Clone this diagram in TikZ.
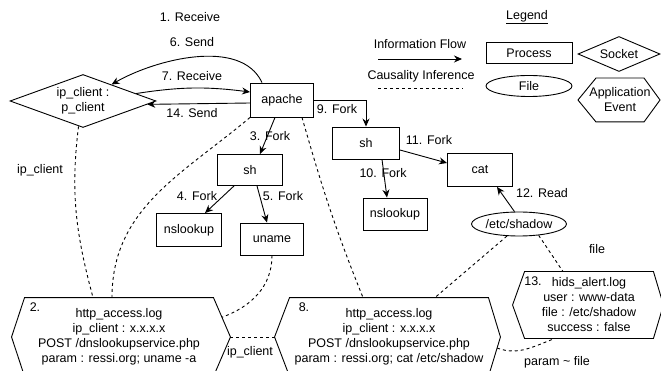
\documentclass[tikz,border=0pt]{standalone}
\usepackage{fontspec}
\setmainfont{Liberation Sans}
\usetikzlibrary{arrows.meta, shapes.geometric, calc}

\newcommand{\hexline}[3]{%
  \coordinate (#1-w) at ([xshift=-#2pt]#1.west);
  \coordinate (#1-e) at ([xshift=#3pt]#1.east);
  \draw (#1.north west) -- (#1.north east) -- (#1-e) -- (#1.south east) -- (#1.south west) -- (#1-w) -- cycle;}

\begin{document}
\begin{tikzpicture}[x=1pt, y=1pt, line width=0.9pt,
  every node/.style={font=\fontsize{12.5}{15}\selectfont},
  proc/.style={draw, rectangle, minimum width=65pt, minimum height=33pt, inner sep=0pt},
  sock/.style={draw, diamond, aspect=2.75, minimum width=146pt, minimum height=53pt, inner sep=0pt, align=center},
  file/.style={draw, ellipse, inner sep=0pt},
  logbox/.style={inner sep=0pt, align=center},
  lbl/.style={inner sep=0pt, align=center},
  flow/.style={-{Stealth[length=8pt, width=7pt]}},
  cause/.style={dash pattern=on 3pt off 3pt}]
  \useasboundingbox (0,0) rectangle (661,-371);
  \clip (0,0) rectangle (661,-371);

  \node[proc, minimum width=63pt, minimum height=34pt] (apache) at (282,-100) {apache};
  \node[sock] (client) at (83,-101) {ip\_client :\\p\_client};
  \node[proc, minimum height=31pt] (shA) at (250,-170) {sh};
  \node[proc] (nslookupA) at (189,-230) {nslookup};
  \node[proc, minimum width=63pt, minimum height=32pt] (uname) at (272,-239) {uname};
  \node[proc, minimum width=67pt, minimum height=32pt] (shB) at (366,-143) {sh};
  \node[proc] (cat) at (480,-170) {cat};
  \node[proc, minimum width=64pt, minimum height=32pt] (nslookupB) at (395,-214) {nslookup};
  \node[file, minimum width=95pt, minimum height=24pt] (shadow) at (519,-224) {/etc/shadow};

  \node[logbox, minimum width=188pt, minimum height=78pt] (logA) at (119,-337)
    {http\_access.log\\ip\_client : x.x.x.x\\POST /dnslookupservice.php\\param : ressi.org; uname -a};
  \hexline{logA}{13}{17}
  \node[logbox, minimum width=198pt, minimum height=78pt] (logB) at (389,-337)
    {http\_access.log\\ip\_client : x.x.x.x\\POST /dnslookupservice.php\\param : ressi.org; cat /etc/shadow};
  \hexline{logB}{15}{12}
  \node[logbox, minimum width=128pt, minimum height=66pt] (hids) at (589,-305)
    {hids\_alert.log\\user : www-data\\file : /etc/shadow\\success : false};
  \hexline{hids}{12}{10}
  \node[lbl] (numA) at (35,-307) {2.};
  \node[lbl] (numB) at (304,-307) {8.};
  \node[lbl] (numC) at (533,-281) {13.};

  % legend
  \node[lbl] (legend) at (527,-17) {\underline{Legend}};
  \node[lbl] (flowtxt) at (420,-44) {Information Flow};
  \coordinate (flowA) at (378,-59);
  \coordinate (flowB) at (462,-59);
  \draw[flow] (flowA) -- (flowB);
  \node[lbl] (causetxt) at (421,-76) {Causality Inference};
  \coordinate (causeA) at (378,-88);
  \coordinate (causeB) at (463,-88);
  \draw[cause] (causeA) -- (causeB);
  \node[proc, minimum width=86pt, minimum height=21pt] (lgProc) at (529,-53) {Process};
  \node[file, minimum width=86pt, minimum height=21pt] (lgFile) at (529,-86) {File};
  \node[sock, minimum width=82pt, minimum height=35pt, aspect=2.3] (lgSock) at (619,-54) {Socket};
  \node[lbl, inner xsep=-7pt, minimum height=43pt] (lgApp) at (620,-100) {Application\\Event};
  \hexline{lgApp}{18}{16}

  % socket traffic
  \node[lbl] (lRecvA) at (190,-17) {1. Receive};
  \node[lbl] (lSendA) at (192,-42) {6. Send};
  \node[lbl] (lRecvB) at (192,-76) {7. Receive};
  \node[lbl] (lSendB) at (192,-113) {14. Send};
  \draw[flow] ([xshift=-20pt]apache.north) to[out=115, in=30, looseness=0.85] (client.30);
  \draw[flow] (client.8) to[bend left=8] ([yshift=8pt]apache.west);
  \draw[flow] ([yshift=-3pt]apache.west) -- (client.-3);

  % forks and reads
  \draw[flow] ([xshift=-7pt]apache.south) -- ([xshift=10pt]shA.north);
  \draw[flow] ([xshift=-16pt]shA.south) -- ([xshift=16pt]nslookupA.north);
  \draw[flow] ([xshift=7pt]shA.south) -- ([xshift=-5pt]uname.north);
  \draw[flow] (apache.east) -| (shB.north);
  \draw[flow] ([xshift=16pt]shB.south) -- ([xshift=-8pt]nslookupB.north);
  \draw[flow] ([yshift=-7pt]shB.east) -- ([yshift=7pt]cat.west);
  \draw[flow] (shadow.110) -- ([xshift=17pt]cat.south);
  \node[lbl] (lForkC) at (270,-136) {3. Fork};
  \node[lbl] (lForkD) at (197,-196) {4. Fork};
  \node[lbl] (lForkE) at (283,-196) {5. Fork};
  \node[lbl] (lForkI) at (337,-109) {9. Fork};
  \node[lbl] (lForkJ) at (383,-173) {10. Fork};
  \node[lbl] (lForkK) at (429,-140) {11. Fork};
  \node[lbl] (lRead) at (542,-193) {12. Read};

  % causality
  \draw[cause] (client.-100) to[out=-97, in=105] ([xshift=-26pt]logA.north);
  \draw[cause] (apache.south west) to[out=-140, in=90] ([xshift=-7pt]logA.north);
  \draw[cause] ([xshift=20pt]apache.south) to[out=-74, in=112] ([xshift=-26pt]logB.north);
  \draw[cause] (uname.south) to[out=-90, in=20] ($(logA.north east)!.5!(logA-e)$);
  \draw[cause] (shadow.-135) -- ([xshift=46pt]logB.north);
  \draw[cause] (shadow.-30) -- ([xshift=-26pt]hids.north);
  \draw[cause] ($(logB-e)!.28!(logB.south east)$) to[out=-20, in=-160] ([xshift=-34pt]hids.south);
  \draw[cause] (logA-e) -- (logB-w);
  \node[lbl] (lClientA) at (40,-170) {ip\_client};
  \node[lbl] (lClientB) at (250,-352) {ip\_client};
  \node[lbl] (lFile) at (597,-249) {file};
  \node[lbl] (lParam) at (557,-362) {param \textasciitilde\ file};
\end{tikzpicture}
\end{document}
